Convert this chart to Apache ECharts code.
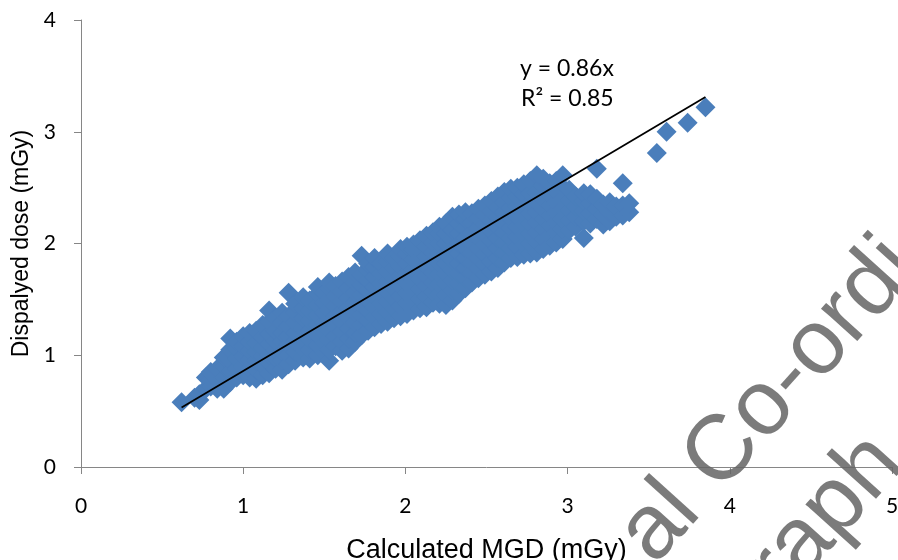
<!DOCTYPE html>
<html>
<head>
<meta charset="utf-8">
<style>
  html, body { margin: 0; padding: 0; background: #ffffff; }
  #chart { width: 898px; height: 560px; }
</style>
<script src="https://cdn.jsdelivr.net/npm/echarts@6/dist/echarts.min.js"></script>
</head>
<body>
<div id="chart"></div>
<script>
// Calculated MGD (x) against displayed dose (y), grouped by x column: [x, [y, y, ...]]
const lowDose = [
  [0.62, [0.58]],
  [0.70, [0.62]],
  [0.73, [0.60, 0.65]],
  [0.77, [0.70, 0.80]],
  [0.80, [0.72, 0.78, 0.85]],
  [0.84, [0.70, 0.78, 0.88]],
  [0.88, [0.70, 0.80, 0.90, 0.98]],
  [0.92, [0.76, 0.86, 0.95, 1.05, 1.15]],
  [0.96, [0.80, 0.88, 0.97, 1.06, 1.12]],
  [1.00, [0.82, 0.90, 0.99, 1.08, 1.17]],
  [1.04, [0.80, 0.88, 0.96, 1.04, 1.12, 1.20]],
  [1.08, [0.79, 0.87, 0.95, 1.03, 1.11, 1.22]],
  [1.12, [0.82, 0.91, 0.99, 1.07, 1.16, 1.27]],
  [1.16, [0.84, 0.93, 1.01, 1.10, 1.19, 1.30, 1.40]],
  [1.20, [0.88, 0.97, 1.05, 1.13, 1.22, 1.33]],
  [1.24, [0.87, 0.95, 1.03, 1.12, 1.20, 1.29, 1.38]],
  [1.28, [0.92, 1.00, 1.09, 1.17, 1.26, 1.35, 1.56]],
  [1.32, [0.95, 1.03, 1.12, 1.20, 1.29, 1.38, 1.46]],
  [1.37, [0.98, 1.06, 1.15, 1.24, 1.33, 1.42, 1.52]],
  [1.41, [0.97, 1.05, 1.14, 1.22, 1.31, 1.40, 1.49]],
  [1.46, [1.00, 1.09, 1.18, 1.27, 1.36, 1.45, 1.55, 1.61]]
];

const midDose = [
  [1.50, [1.02, 1.11, 1.20, 1.29, 1.38, 1.47, 1.56]],
  [1.53, [0.95, 1.05, 1.14, 1.23, 1.32, 1.41, 1.50, 1.60, 1.65]],
  [1.57, [1.08, 1.17, 1.26, 1.35, 1.44, 1.53, 1.62]],
  [1.61, [1.04, 1.12, 1.21, 1.30, 1.39, 1.48, 1.57, 1.66]],
  [1.65, [1.06, 1.15, 1.24, 1.33, 1.42, 1.51, 1.60, 1.70]],
  [1.69, [1.12, 1.20, 1.29, 1.38, 1.47, 1.56, 1.65, 1.74]],
  [1.73, [1.18, 1.27, 1.36, 1.45, 1.54, 1.63, 1.72, 1.89]],
  [1.77, [1.22, 1.31, 1.40, 1.49, 1.58, 1.67, 1.76, 1.82]],
  [1.81, [1.25, 1.34, 1.43, 1.52, 1.61, 1.70, 1.79, 1.87]],
  [1.85, [1.28, 1.37, 1.46, 1.55, 1.64, 1.73, 1.82]],
  [1.89, [1.30, 1.39, 1.48, 1.57, 1.66, 1.75, 1.84, 1.91]],
  [1.93, [1.33, 1.42, 1.51, 1.60, 1.69, 1.78, 1.87]],
  [1.97, [1.35, 1.44, 1.53, 1.62, 1.71, 1.80, 1.89, 1.95]],
  [2.01, [1.37, 1.46, 1.55, 1.64, 1.73, 1.82, 1.91, 1.97]],
  [2.05, [1.40, 1.49, 1.58, 1.67, 1.76, 1.85, 1.94, 1.99]],
  [2.09, [1.42, 1.51, 1.60, 1.69, 1.78, 1.87, 1.96, 2.03]],
  [2.13, [1.43, 1.52, 1.62, 1.71, 1.80, 1.89, 1.98, 2.07]],
  [2.17, [1.47, 1.56, 1.65, 1.74, 1.83, 1.92, 2.01, 2.10]],
  [2.21, [1.46, 1.55, 1.64, 1.73, 1.82, 1.91, 2.00, 2.09, 2.15]],
  [2.25, [1.45, 1.54, 1.64, 1.73, 1.82, 1.91, 2.00, 2.09, 2.18]],
  [2.29, [1.49, 1.58, 1.67, 1.76, 1.85, 1.94, 2.03, 2.12, 2.24]],
  [2.33, [1.55, 1.64, 1.73, 1.82, 1.91, 2.00, 2.09, 2.18, 2.26]],
  [2.37, [1.60, 1.69, 1.78, 1.87, 1.96, 2.05, 2.14, 2.22, 2.28]],
  [2.41, [1.65, 1.74, 1.83, 1.92, 2.01, 2.10, 2.19, 2.27]],
  [2.45, [1.69, 1.78, 1.87, 1.96, 2.05, 2.14, 2.23, 2.31]]
];

const highDose = [
  [2.49, [1.72, 1.81, 1.90, 1.99, 2.08, 2.17, 2.26, 2.34]],
  [2.53, [1.75, 1.84, 1.93, 2.02, 2.11, 2.20, 2.29, 2.38]],
  [2.57, [1.78, 1.87, 1.96, 2.05, 2.14, 2.23, 2.32, 2.42]],
  [2.61, [1.83, 1.92, 2.01, 2.10, 2.19, 2.28, 2.37, 2.46]],
  [2.65, [1.87, 1.96, 2.05, 2.14, 2.23, 2.32, 2.41, 2.49]],
  [2.69, [1.88, 1.97, 2.06, 2.15, 2.24, 2.33, 2.42, 2.50]],
  [2.73, [1.90, 1.99, 2.08, 2.17, 2.26, 2.35, 2.44, 2.53]],
  [2.77, [1.91, 2.00, 2.09, 2.18, 2.27, 2.36, 2.45, 2.56]],
  [2.81, [1.92, 2.01, 2.10, 2.19, 2.28, 2.37, 2.46, 2.61]],
  [2.85, [1.95, 2.04, 2.13, 2.22, 2.31, 2.40, 2.52, 2.58]],
  [2.89, [1.98, 2.07, 2.16, 2.25, 2.34, 2.43, 2.54]],
  [2.93, [2.01, 2.10, 2.19, 2.28, 2.37, 2.46, 2.56]],
  [2.97, [2.04, 2.13, 2.22, 2.31, 2.40, 2.50, 2.61]],
  [3.01, [2.12, 2.21, 2.30, 2.39, 2.48]],
  [3.05, [2.15, 2.24, 2.33, 2.42]],
  [3.10, [2.05, 2.20, 2.29, 2.38, 2.45]],
  [3.14, [2.18, 2.27, 2.36, 2.44]],
  [3.18, [2.22, 2.31, 2.40, 2.67]],
  [3.22, [2.17, 2.26, 2.35]],
  [3.26, [2.20, 2.28, 2.37]],
  [3.30, [2.24, 2.33]],
  [3.34, [2.25, 2.34, 2.54]],
  [3.38, [2.28, 2.36]]
];

const outliers = [
  [3.55, [2.81]],
  [3.61, [3.00]],
  [3.74, [3.08]],
  [3.85, [3.22]]
];

// Linear fit through the origin
const trendSlope = 0.86;
const trendLabel = 'y = 0.86x';
const r2Label = 'R\u00B2 = 0.85';

const xTicks = [0, 1, 2, 3, 4, 5];
const yTicks = [0, 1, 2, 3, 4];

const points = [];
[lowDose, midDose, highDose, outliers].forEach(group => {
  group.forEach(([x, ys]) => ys.forEach(y => points.push([x, y])));
});
const xs = points.map(p => p[0]);
const xMin = Math.min(...xs);
const xMax = Math.max(...xs);
const trend = [[xMin, trendSlope * xMin], [xMax, trendSlope * xMax]];

const axisColor = '#868686';
const tickFont = 'Lato, "Open Sans", sans-serif';
const titleFont = '"Liberation Sans", Arial, sans-serif';
const markColor = 'rgba(100,100,100,0.85)';

const chart = echarts.init(document.getElementById('chart'), null, { renderer: 'canvas' });
chart.setOption({
  animation: false,
  backgroundColor: '#ffffff',
  grid: { left: 81, right: 6, top: 20, bottom: 93, containLabel: false, outerBoundsMode: 'none' },
  xAxis: {
    type: 'value',
    min: xTicks[0],
    max: xTicks[xTicks.length - 1],
    interval: 1,
    name: 'Calculated MGD (mGy)',
    nameLocation: 'middle',
    nameGap: 70,
    nameTextStyle: { fontFamily: titleFont, fontSize: 27, color: '#000' },
    axisLine: { lineStyle: { color: axisColor, width: 1 } },
    axisTick: { length: 7, lineStyle: { color: axisColor } },
    axisLabel: { margin: 29, fontFamily: tickFont, fontSize: 21, color: '#000' },
    splitLine: { show: false }
  },
  yAxis: {
    type: 'value',
    min: yTicks[0],
    max: yTicks[yTicks.length - 1],
    interval: 1,
    name: 'Dispalyed dose (mGy)',
    nameLocation: 'middle',
    nameGap: 47,
    nameTextStyle: { fontFamily: titleFont, fontSize: 23, color: '#000' },
    axisLine: { show: true, lineStyle: { color: axisColor, width: 1 } },
    axisTick: { show: true, length: 7, lineStyle: { color: axisColor } },
    axisLabel: { margin: 25, fontFamily: tickFont, fontSize: 21, color: '#000' },
    splitLine: { show: false }
  },
  series: [
    {
      type: 'scatter',
      data: points,
      symbol: 'diamond',
      symbolSize: 20,
      itemStyle: { color: '#4a7ebb', opacity: 1 },
      z: 2
    },
    {
      type: 'line',
      data: trend,
      symbol: 'none',
      lineStyle: { color: '#000000', width: 1.8 },
      z: 3
    }
  ],
  graphic: [
    {
      type: 'text',
      left: 520,
      top: 57,
      z: 10,
      style: { text: trendLabel, font: '23px ' + tickFont, fill: '#000' }
    },
    {
      type: 'text',
      left: 521,
      top: 87,
      z: 10,
      style: { text: r2Label, font: '23px ' + tickFont, fill: '#000' }
    },
    {
      type: 'text',
      x: 670,
      y: 580,
      rotation: 48 * Math.PI / 180,
      z: 20,
      style: {
        text: 'al Co-ordi',
        font: '92px ' + titleFont,
        fill: markColor,
        textAlign: 'left',
        textVerticalAlign: 'bottom'
      }
    },
    {
      type: 'text',
      x: 798,
      y: 616,
      rotation: 48 * Math.PI / 180,
      z: 20,
      style: {
        text: 'raph',
        font: '92px ' + titleFont,
        fill: markColor,
        textAlign: 'left',
        textVerticalAlign: 'bottom'
      }
    }
  ]
});
</script>
</body>
</html>
